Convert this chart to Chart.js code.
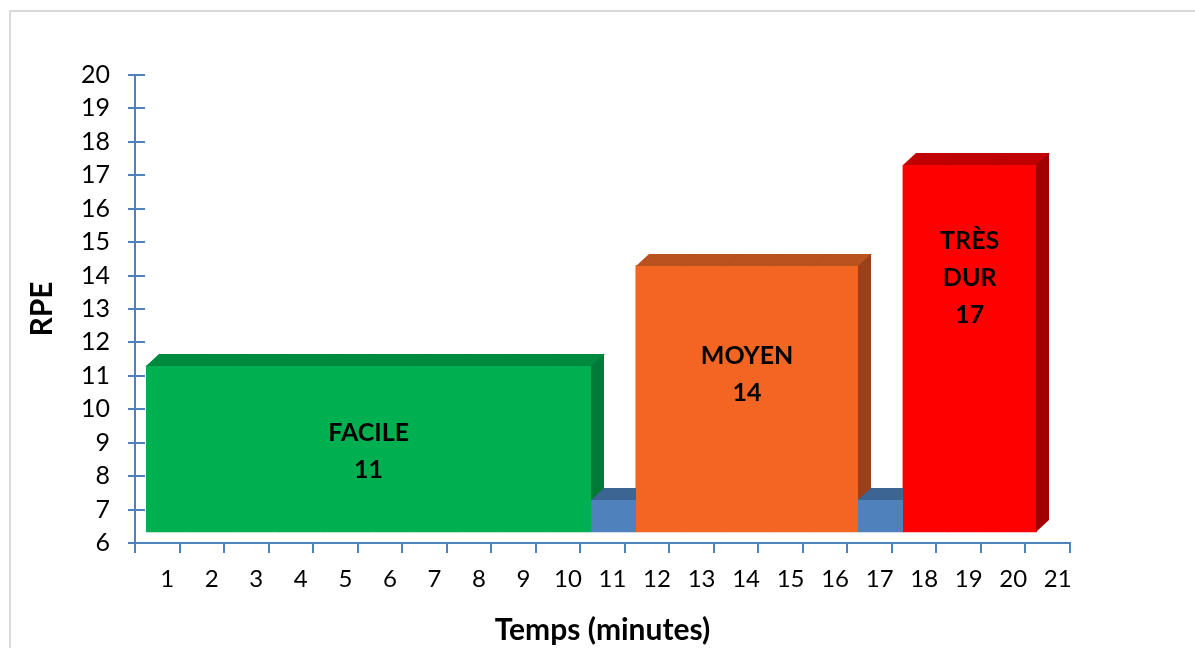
<!DOCTYPE html>
<html>
<head>
<meta charset="utf-8">
<script src="https://cdn.jsdelivr.net/npm/chart.js@4/dist/chart.umd.min.js"></script>
<style>
  html, body { margin: 0; padding: 0; background: #fff; }
  #wrap { position: relative; width: 1195px; height: 648px; overflow: hidden; }
  #frame { position: absolute; left: 9px; top: 10px; width: 1400px; height: 900px; border: 2px solid #d9d9d9; }
  canvas { position: absolute; left: 0; top: 0; }
</style>
</head>
<body>
<div id="wrap">
  <div id="frame"></div>
  <canvas id="rpeChart" width="1195" height="648"></canvas>
</div>
<script>
const minutes = ['1','2','3','4','5','6','7','8','9','10','11','12','13','14','15','16','17','18','19','20','21'];
const rpe     = [11, 11, 11, 11, 11, 11, 11, 11, 11, 11, 7, 14, 14, 14, 14, 14, 7, 17, 17, 17, null];
const yTicks  = [6, 20];

// zone labels, one per block of equal bars (recovery blocks have none)
const zoneText   = [['FACILE', '11'], ['MOYEN', '14'], ['TRÈS', 'DUR', '17']];
const zoneLevels = [11, 14, 17];
const zoneTextAt = [9.3, 11.6, 15.05];   // RPE height of the first text line

const AXIS = '#4f81bd';
const FONT = 'Lato, "Open Sans", sans-serif';

// front / top / side colours per RPE level
const faces = {
  7:  { front: '#4f81bd', top: '#3d6593', side: '#385d8a' },
  11: { front: '#00b050', top: '#008a3e', side: '#007a37' },
  14: { front: '#f26522', top: '#ba521f', side: '#9c3f1b' },
  17: { front: '#ff0000', top: '#c00000', side: '#a00000' }
};

// front faces sit a little behind the axes, faces get some depth
const SHIFT_X = 11, SHIFT_Y = -10;
const DEPTH_X = 13, DEPTH_Y = -12;

const bars3d = {
  id: 'bars3d',
  beforeDatasetsDraw(chart) {
    chart.ctx.save();
    chart.ctx.translate(SHIFT_X, SHIFT_Y);
  },
  afterDatasetsDraw(chart) {
    const ctx = chart.ctx;
    const meta = chart.getDatasetMeta(0);
    meta.data.forEach((bar, i) => {
      if (rpe[i] == null) return;
      const c = faces[rpe[i]];
      const { x, y, base, width } = bar.getProps(['x', 'y', 'base', 'width'], true);
      const l = Math.round(x - width / 2), r = Math.round(x + width / 2);
      const t = Math.round(y), b = Math.round(base);

      // top face, 1px wider so neighbours of equal height join without a seam
      ctx.fillStyle = c.top;
      ctx.beginPath();
      ctx.moveTo(l, t);
      ctx.lineTo(l + DEPTH_X, t + DEPTH_Y);
      ctx.lineTo(r + DEPTH_X + 1, t + DEPTH_Y);
      ctx.lineTo(r + 1, t);
      ctx.closePath();
      ctx.fill();

      ctx.fillStyle = c.side;
      ctx.beginPath();
      ctx.moveTo(r, t);
      ctx.lineTo(r + DEPTH_X, t + DEPTH_Y);
      ctx.lineTo(r + DEPTH_X, b + DEPTH_Y);
      ctx.lineTo(r, b);
      ctx.closePath();
      ctx.fill();

      ctx.fillStyle = c.front;
      ctx.fillRect(l, t, r - l, b - t);
    });
    ctx.restore();
  }
};

// y ticks cross the axis, Chart.js only draws the outer half
const innerTicks = {
  id: 'innerTicks',
  afterDraw(chart) {
    const ctx = chart.ctx;
    const ys = chart.scales.y;
    const left = chart.chartArea.left;
    ctx.save();
    ctx.strokeStyle = AXIS;
    ctx.lineWidth = 2;
    ys.ticks.forEach(tk => {
      const py = Math.round(ys.getPixelForValue(tk.value));
      ctx.beginPath();
      ctx.moveTo(left, py);
      ctx.lineTo(left + 10, py);
      ctx.stroke();
    });
    ctx.restore();
  }
};

const zoneLabels = {
  id: 'zoneLabels',
  afterDraw(chart) {
    const ctx = chart.ctx;
    const meta = chart.getDatasetMeta(0);
    const ys = chart.scales.y;
    ctx.save();
    ctx.font = 'bold 25px ' + FONT;
    ctx.fillStyle = '#000';
    ctx.textAlign = 'center';
    ctx.textBaseline = 'middle';
    zoneLevels.forEach((lvl, z) => {
      const idx = rpe.map((v, i) => v === lvl ? i : -1).filter(i => i >= 0);
      const first = meta.data[idx[0]], last = meta.data[idx[idx.length - 1]];
      const cx = (first.x - first.width / 2 + last.x + last.width / 2) / 2 + SHIFT_X;
      const y0 = ys.getPixelForValue(zoneTextAt[z]);
      zoneText[z].forEach((line, k) => ctx.fillText(line, cx, y0 + k * 37));
    });
    ctx.restore();
  }
};

new Chart(document.getElementById('rpeChart'), {
  type: 'bar',
  data: {
    labels: minutes,
    datasets: [{
      label: 'RPE',
      data: rpe,
      base: yTicks[0],
      backgroundColor: rpe.map(v => v == null ? 'transparent' : faces[v].front),
      borderWidth: 0,
      categoryPercentage: 1,
      barPercentage: 1
    }]
  },
  options: {
    responsive: false,
    animation: false,
    events: [],
    layout: { padding: { left: 20, right: 125, top: 75, bottom: 0 } },
    plugins: {
      legend: { display: false },
      tooltip: { enabled: false }
    },
    scales: {
      x: {
        offset: true,
        afterFit(scale) { scale.height = 105; },
        border: { color: AXIS, width: 2 },
        grid: { offset: true, drawOnChartArea: false, color: AXIS, lineWidth: 2, tickLength: 10 },
        ticks: { color: '#000', font: { family: FONT, size: 24 }, padding: 12, labelOffset: 10, maxRotation: 0, autoSkip: false },
        title: { display: true, text: 'Temps (minutes)', color: '#000', font: { family: FONT, size: 30, weight: 'bold' }, padding: { top: 0, bottom: 0 } }
      },
      y: {
        min: yTicks[0],
        max: yTicks[1],
        afterFit(scale) { scale.width = 115; },
        border: { color: AXIS, width: 2 },
        grid: { drawOnChartArea: false, color: AXIS, lineWidth: 2, tickLength: 7 },
        ticks: { stepSize: 1, color: '#000', font: { family: FONT, size: 25 }, padding: 18 },
        title: { display: true, text: 'RPE', color: '#000', font: { family: FONT, size: 30, weight: 'bold' }, padding: { top: 4, bottom: 0 } }
      }
    }
  },
  plugins: [bars3d, innerTicks, zoneLabels]
});
</script>
</body>
</html>
